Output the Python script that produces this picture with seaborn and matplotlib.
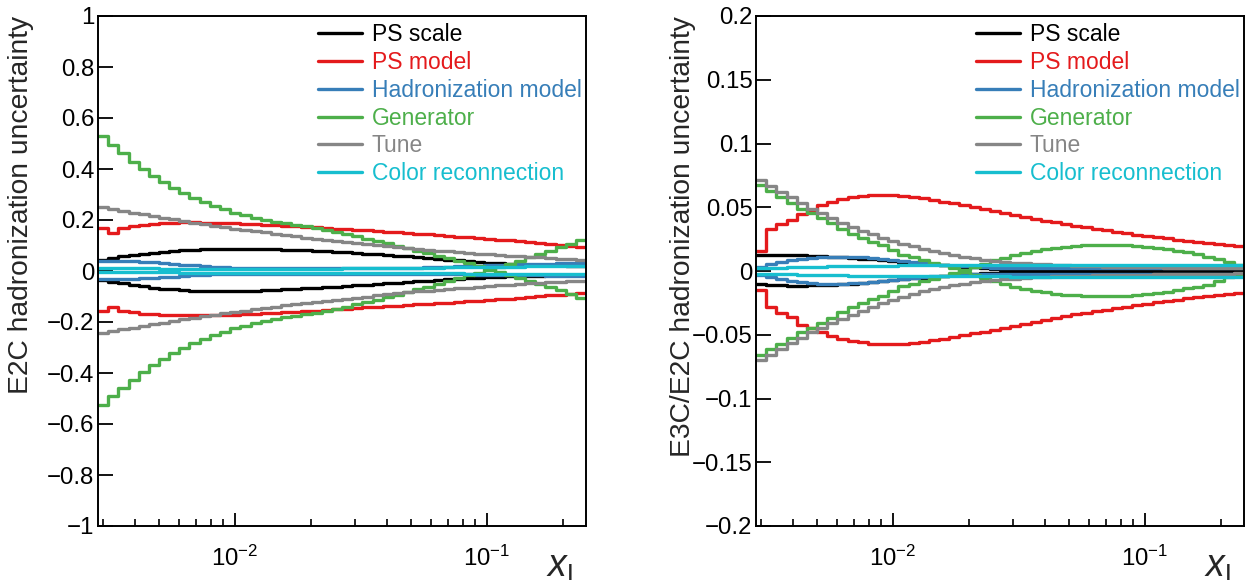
import numpy as np
import pandas as pd
import matplotlib
matplotlib.use("Agg")
import matplotlib.pyplot as plt
from matplotlib.lines import Line2D
from matplotlib.ticker import FixedLocator, FuncFormatter, LogLocator, NullLocator
import seaborn as sns

# ---- binning (log-spaced in x_L) ----
X_MIN, X_MAX, N_BINS = 0.002859, 0.2472, 48

SOURCES = ["PS scale", "PS model", "Hadronization model", "Generator", "Tune", "Color reconnection"]
COLORS = ["#000000", "#E41A1C", "#377EB8", "#4DAF4A", "#868686", "#17BECF"]

# ---- E2C hadronization uncertainties (up / down variation per bin) ----
E2C_PS_SCALE_UP = [0.045, 0.052, 0.058, 0.063, 0.068, 0.072, 0.076, 0.079, 0.082, 0.084,
                   0.086, 0.087, 0.088, 0.088, 0.088, 0.087, 0.086, 0.085, 0.084, 0.082,
                   0.081, 0.079, 0.077, 0.075, 0.073, 0.071, 0.068, 0.066, 0.063, 0.060,
                   0.057, 0.054, 0.051, 0.048, 0.045, 0.042, 0.039, 0.036, 0.033, 0.031,
                   0.029, 0.027, 0.025, 0.024, 0.023, 0.022, 0.021, 0.020]
E2C_PS_SCALE_DN = [-0.035, -0.042, -0.049, -0.055, -0.060, -0.065, -0.069, -0.072, -0.075, -0.077,
                   -0.078, -0.079, -0.079, -0.079, -0.078, -0.077, -0.076, -0.074, -0.072, -0.070,
                   -0.068, -0.066, -0.064, -0.061, -0.059, -0.056, -0.054, -0.051, -0.048, -0.046,
                   -0.043, -0.040, -0.038, -0.035, -0.033, -0.031, -0.029, -0.027, -0.025, -0.023,
                   -0.021, -0.020, -0.019, -0.018, -0.017, -0.016, -0.015, -0.014]
E2C_PS_MODEL_UP = [0.167, 0.148, 0.167, 0.176, 0.182, 0.186, 0.189, 0.190, 0.191, 0.191,
                   0.190, 0.189, 0.188, 0.187, 0.185, 0.183, 0.181, 0.179, 0.177, 0.175,
                   0.173, 0.171, 0.168, 0.166, 0.164, 0.161, 0.159, 0.157, 0.154, 0.152,
                   0.149, 0.147, 0.144, 0.141, 0.138, 0.135, 0.132, 0.129, 0.126, 0.123,
                   0.120, 0.117, 0.113, 0.110, 0.107, 0.103, 0.100, 0.096]
E2C_PS_MODEL_DN = [-0.155, -0.142, -0.155, -0.162, -0.167, -0.170, -0.172, -0.173, -0.174, -0.174,
                   -0.174, -0.173, -0.172, -0.171, -0.169, -0.167, -0.165, -0.163, -0.161, -0.159,
                   -0.157, -0.155, -0.153, -0.150, -0.148, -0.146, -0.143, -0.141, -0.139, -0.136,
                   -0.134, -0.131, -0.129, -0.126, -0.124, -0.121, -0.118, -0.116, -0.113, -0.111,
                   -0.108, -0.105, -0.102, -0.099, -0.096, -0.093, -0.089, -0.086]
E2C_HAD_UP = [0.038, 0.040, 0.040, 0.039, 0.037, 0.034, 0.031, 0.028, 0.025, 0.022,
              0.019, 0.017, 0.015, 0.013, 0.012, 0.011, 0.010, 0.010, 0.010, 0.010,
              0.010, 0.010, 0.010, 0.010, 0.010, 0.010, 0.010, 0.010, 0.010, 0.011,
              0.012, 0.013, 0.014, 0.015, 0.016, 0.018, 0.019, 0.020, 0.022, 0.023,
              0.024, 0.026, 0.027, 0.028, 0.029, 0.030, 0.031, 0.032]
E2C_HAD_DN = [-0.030, -0.031, -0.031, -0.030, -0.028, -0.026, -0.024, -0.022, -0.019, -0.017,
              -0.015, -0.013, -0.012, -0.011, -0.010, -0.010, -0.010, -0.010, -0.010, -0.010,
              -0.010, -0.010, -0.010, -0.010, -0.010, -0.010, -0.010, -0.010, -0.010, -0.010,
              -0.010, -0.011, -0.011, -0.012, -0.012, -0.013, -0.013, -0.014, -0.014, -0.015,
              -0.015, -0.016, -0.016, -0.017, -0.018, -0.018, -0.019, -0.020]
E2C_GEN_UP = [0.530, 0.494, 0.461, 0.429, 0.400, 0.374, 0.348, 0.326, 0.306, 0.288,
              0.271, 0.256, 0.242, 0.229, 0.218, 0.208, 0.199, 0.193, 0.187, 0.181,
              0.175, 0.168, 0.161, 0.153, 0.145, 0.136, 0.127, 0.118, 0.109, 0.100,
              0.090, 0.080, 0.070, 0.060, 0.050, 0.040, 0.030, 0.019, 0.008, -0.003,
              -0.015, -0.026, -0.038, -0.050, -0.062, -0.075, -0.089, -0.106]
E2C_GEN_DN = [-0.525, -0.490, -0.458, -0.426, -0.397, -0.370, -0.345, -0.322, -0.302, -0.284,
              -0.267, -0.252, -0.238, -0.225, -0.214, -0.204, -0.195, -0.188, -0.182, -0.176,
              -0.170, -0.163, -0.156, -0.148, -0.140, -0.131, -0.122, -0.113, -0.103, -0.093,
              -0.083, -0.072, -0.061, -0.050, -0.039, -0.028, -0.017, -0.006, 0.005, 0.017,
              0.029, 0.041, 0.053, 0.066, 0.079, 0.093, 0.107, 0.122]
E2C_TUNE_UP = [0.250, 0.243, 0.236, 0.229, 0.222, 0.216, 0.209, 0.203, 0.197, 0.190,
               0.184, 0.178, 0.172, 0.166, 0.161, 0.156, 0.151, 0.146, 0.141, 0.136,
               0.131, 0.127, 0.122, 0.118, 0.113, 0.109, 0.105, 0.101, 0.097, 0.093,
               0.090, 0.086, 0.083, 0.080, 0.077, 0.074, 0.071, 0.068, 0.065, 0.062,
               0.060, 0.057, 0.055, 0.053, 0.050, 0.048, 0.046, 0.044]
E2C_TUNE_DN = [-0.243, -0.236, -0.229, -0.222, -0.215, -0.209, -0.202, -0.196, -0.190, -0.184,
               -0.178, -0.172, -0.166, -0.160, -0.155, -0.150, -0.145, -0.140, -0.135, -0.130,
               -0.125, -0.121, -0.116, -0.112, -0.108, -0.104, -0.100, -0.096, -0.092, -0.088,
               -0.084, -0.080, -0.077, -0.074, -0.071, -0.068, -0.065, -0.062, -0.059, -0.056,
               -0.054, -0.051, -0.049, -0.046, -0.044, -0.042, -0.040, -0.038]
E2C_CR_UP = [0.012, 0.012, 0.011, 0.011, 0.010, 0.010, 0.009, 0.009, 0.008, 0.008,
             0.008, 0.008, 0.008, 0.008, 0.008, 0.008, 0.008, 0.008, 0.008, 0.008,
             0.008, 0.009, 0.009, 0.009, 0.010, 0.010, 0.010, 0.011, 0.011, 0.012,
             0.012, 0.012, 0.013, 0.013, 0.014, 0.014, 0.015, 0.015, 0.016, 0.016,
             0.017, 0.017, 0.018, 0.018, 0.019, 0.019, 0.020, 0.020]
E2C_CR_DN = [-0.002, -0.003, -0.003, -0.004, -0.004, -0.005, -0.005, -0.005, -0.006, -0.006,
             -0.006, -0.006, -0.006, -0.006, -0.006, -0.006, -0.006, -0.006, -0.006, -0.006,
             -0.006, -0.006, -0.006, -0.006, -0.007, -0.007, -0.007, -0.007, -0.008, -0.008,
             -0.008, -0.008, -0.009, -0.009, -0.009, -0.009, -0.010, -0.010, -0.010, -0.010,
             -0.011, -0.011, -0.011, -0.011, -0.012, -0.012, -0.012, -0.012]

# ---- E3C/E2C hadronization uncertainties ----
R_PS_SCALE_UP = [0.0123, 0.0124, 0.0124, 0.0123, 0.0122, 0.0120, 0.0117, 0.0113, 0.0109, 0.0104,
                 0.0098, 0.0092, 0.0086, 0.0079, 0.0072, 0.0065, 0.0058, 0.0051, 0.0045, 0.0039,
                 0.0033, 0.0028, 0.0023, 0.0019, 0.0015, 0.0012, 0.0010, 0.0008, 0.0007, 0.0006,
                 0.0006, 0.0006, 0.0006, 0.0006, 0.0006, 0.0007, 0.0007, 0.0007, 0.0007, 0.0008,
                 0.0008, 0.0008, 0.0008, 0.0009, 0.0009, 0.0009, 0.0010, 0.0010]
R_PS_SCALE_DN = [-0.0105, -0.0110, -0.0113, -0.0114, -0.0114, -0.0113, -0.0111, -0.0108, -0.0104, -0.0099,
                 -0.0093, -0.0087, -0.0080, -0.0073, -0.0066, -0.0058, -0.0051, -0.0044, -0.0037, -0.0031,
                 -0.0025, -0.0020, -0.0016, -0.0012, -0.0009, -0.0007, -0.0005, -0.0004, -0.0003, -0.0003,
                 -0.0003, -0.0003, -0.0003, -0.0003, -0.0003, -0.0003, -0.0003, -0.0003, -0.0003, -0.0003,
                 -0.0004, -0.0004, -0.0004, -0.0004, -0.0004, -0.0004, -0.0004, -0.0004]
R_PS_MODEL_UP = [0.0160, 0.0330, 0.0372, 0.0400, 0.0450, 0.0480, 0.0518, 0.0544, 0.0562, 0.0580,
                 0.0590, 0.0597, 0.0600, 0.0597, 0.0590, 0.0580, 0.0570, 0.0557, 0.0545, 0.0530,
                 0.0515, 0.0500, 0.0485, 0.0470, 0.0455, 0.0440, 0.0425, 0.0410, 0.0396, 0.0382,
                 0.0368, 0.0355, 0.0342, 0.0330, 0.0318, 0.0307, 0.0296, 0.0286, 0.0276, 0.0266,
                 0.0256, 0.0246, 0.0237, 0.0228, 0.0219, 0.0211, 0.0203, 0.0196]
R_PS_MODEL_DN = [-0.0150, -0.0280, -0.0330, -0.0360, -0.0420, -0.0450, -0.0480, -0.0510, -0.0530, -0.0550,
                 -0.0560, -0.0570, -0.0575, -0.0575, -0.0570, -0.0565, -0.0555, -0.0545, -0.0535, -0.0520,
                 -0.0505, -0.0490, -0.0475, -0.0460, -0.0445, -0.0430, -0.0415, -0.0400, -0.0385, -0.0370,
                 -0.0355, -0.0340, -0.0328, -0.0316, -0.0304, -0.0292, -0.0280, -0.0268, -0.0257, -0.0246,
                 -0.0235, -0.0225, -0.0215, -0.0206, -0.0197, -0.0188, -0.0180, -0.0175]
R_HAD_UP = [0.0035, 0.0055, 0.0072, 0.0086, 0.0097, 0.0105, 0.0110, 0.0112, 0.0112, 0.0110,
            0.0106, 0.0100, 0.0093, 0.0085, 0.0077, 0.0069, 0.0061, 0.0054, 0.0047, 0.0041,
            0.0036, 0.0032, 0.0029, 0.0027, 0.0025, 0.0024, 0.0024, 0.0024, 0.0024, 0.0024,
            0.0023, 0.0023, 0.0023, 0.0023, 0.0023, 0.0022, 0.0022, 0.0022, 0.0022, 0.0022,
            0.0021, 0.0021, 0.0021, 0.0021, 0.0021, 0.0020, 0.0020, 0.0020]
R_HAD_DN = [-0.0030, -0.0050, -0.0066, -0.0079, -0.0089, -0.0096, -0.0100, -0.0102, -0.0101, -0.0098,
            -0.0093, -0.0087, -0.0080, -0.0072, -0.0064, -0.0056, -0.0049, -0.0042, -0.0036, -0.0031,
            -0.0027, -0.0024, -0.0022, -0.0021, -0.0020, -0.0020, -0.0020, -0.0020, -0.0021, -0.0021,
            -0.0021, -0.0021, -0.0022, -0.0022, -0.0022, -0.0022, -0.0023, -0.0023, -0.0023, -0.0023,
            -0.0024, -0.0024, -0.0024, -0.0024, -0.0025, -0.0025, -0.0025, -0.0025]
R_GEN_UP = [0.0675, 0.0630, 0.0583, 0.0531, 0.0484, 0.0452, 0.0413, 0.0374, 0.0327, 0.0290,
            0.0256, 0.0230, 0.0204, 0.0165, 0.0125, 0.0107, 0.0086, 0.0065, 0.0045, 0.0022,
            -0.0005, -0.0030, -0.0055, -0.0080, -0.0102, -0.0122, -0.0140, -0.0155, -0.0167, -0.0177,
            -0.0185, -0.0191, -0.0195, -0.0198, -0.0199, -0.0198, -0.0194, -0.0188, -0.0180, -0.0172,
            -0.0162, -0.0150, -0.0137, -0.0122, -0.0106, -0.0075, -0.0050, -0.0025]
R_GEN_DN = [-0.0660, -0.0615, -0.0570, -0.0522, -0.0476, -0.0444, -0.0405, -0.0366, -0.0320, -0.0283,
            -0.0250, -0.0222, -0.0196, -0.0158, -0.0120, -0.0101, -0.0080, -0.0060, -0.0040, -0.0018,
            0.0008, 0.0033, 0.0058, 0.0083, 0.0105, 0.0125, 0.0143, 0.0158, 0.0170, 0.0180,
            0.0189, 0.0196, 0.0201, 0.0204, 0.0206, 0.0205, 0.0202, 0.0197, 0.0190, 0.0182,
            0.0172, 0.0160, 0.0146, 0.0130, 0.0113, 0.0093, 0.0070, 0.0045]
R_TUNE_UP = [0.0714, 0.0668, 0.0622, 0.0578, 0.0532, 0.0490, 0.0452, 0.0415, 0.0380, 0.0347,
             0.0316, 0.0288, 0.0262, 0.0238, 0.0215, 0.0194, 0.0175, 0.0157, 0.0141, 0.0126,
             0.0113, 0.0101, 0.0090, 0.0081, 0.0073, 0.0066, 0.0060, 0.0055, 0.0051, 0.0047,
             0.0044, 0.0041, 0.0039, 0.0037, 0.0035, 0.0033, 0.0031, 0.0030, 0.0029, 0.0028,
             0.0027, 0.0026, 0.0025, 0.0024, 0.0023, 0.0022, 0.0021, 0.0020]
R_TUNE_DN = [-0.0698, -0.0655, -0.0610, -0.0567, -0.0522, -0.0481, -0.0444, -0.0408, -0.0374, -0.0342,
             -0.0310, -0.0280, -0.0252, -0.0226, -0.0202, -0.0180, -0.0160, -0.0142, -0.0126, -0.0112,
             -0.0100, -0.0089, -0.0080, -0.0072, -0.0065, -0.0059, -0.0054, -0.0050, -0.0046, -0.0043,
             -0.0040, -0.0038, -0.0036, -0.0034, -0.0032, -0.0031, -0.0030, -0.0029, -0.0028, -0.0027,
             -0.0026, -0.0025, -0.0024, -0.0023, -0.0022, -0.0021, -0.0020, -0.0019]
R_CR_UP = [0.0020, 0.0023, 0.0026, 0.0029, 0.0031, 0.0033, 0.0035, 0.0037, 0.0038, 0.0039,
           0.0040, 0.0041, 0.0042, 0.0043, 0.0044, 0.0045, 0.0045, 0.0045, 0.0045, 0.0045,
           0.0046, 0.0046, 0.0046, 0.0046, 0.0046, 0.0046, 0.0046, 0.0046, 0.0046, 0.0046,
           0.0047, 0.0047, 0.0047, 0.0047, 0.0047, 0.0047, 0.0047, 0.0047, 0.0047, 0.0047,
           0.0048, 0.0048, 0.0048, 0.0048, 0.0048, 0.0048, 0.0048, 0.0048]
R_CR_DN = [-0.0020, -0.0023, -0.0025, -0.0027, -0.0029, -0.0031, -0.0033, -0.0034, -0.0035, -0.0036,
           -0.0037, -0.0038, -0.0039, -0.0040, -0.0041, -0.0042, -0.0042, -0.0042, -0.0042, -0.0042,
           -0.0043, -0.0043, -0.0043, -0.0043, -0.0043, -0.0044, -0.0044, -0.0044, -0.0044, -0.0044,
           -0.0045, -0.0045, -0.0045, -0.0045, -0.0045, -0.0046, -0.0046, -0.0046, -0.0046, -0.0046,
           -0.0047, -0.0047, -0.0047, -0.0047, -0.0047, -0.0048, -0.0048, -0.0048]

E2C_UP = [E2C_PS_SCALE_UP, E2C_PS_MODEL_UP, E2C_HAD_UP, E2C_GEN_UP, E2C_TUNE_UP, E2C_CR_UP]
E2C_DN = [E2C_PS_SCALE_DN, E2C_PS_MODEL_DN, E2C_HAD_DN, E2C_GEN_DN, E2C_TUNE_DN, E2C_CR_DN]
RATIO_UP = [R_PS_SCALE_UP, R_PS_MODEL_UP, R_HAD_UP, R_GEN_UP, R_TUNE_UP, R_CR_UP]
RATIO_DN = [R_PS_SCALE_DN, R_PS_MODEL_DN, R_HAD_DN, R_GEN_DN, R_TUNE_DN, R_CR_DN]

EDGES = np.logspace(np.log10(X_MIN), np.log10(X_MAX), N_BINS + 1)

# ---- style ----
sns.set_theme(style="ticks")
plt.rcParams["font.family"] = ["Liberation Sans", "DejaVu Sans"]
plt.rcParams["mathtext.fontset"] = "custom"
plt.rcParams["mathtext.rm"] = "Liberation Sans"
plt.rcParams["mathtext.it"] = "Liberation Sans:italic"
plt.rcParams["axes.edgecolor"] = "black"
plt.rcParams["axes.linewidth"] = 1.4
plt.rcParams["xtick.color"] = "black"
plt.rcParams["ytick.color"] = "black"
plt.rcParams["axes.unicode_minus"] = True

LW = 2.4
PALETTE = dict(zip(SOURCES, COLORS))


def long_table(ups, dns):
    frames = []
    for src, up, dn in zip(SOURCES, ups, dns):
        for var, vals in (("up", up), ("down", dn)):
            vals = np.asarray(vals, dtype=float)
            assert len(vals) == N_BINS
            frames.append(pd.DataFrame({
                "x": EDGES,
                "y": np.append(vals, vals[-1]),
                "source": src,
                "variation": var,
            }))
    return pd.concat(frames, ignore_index=True)


def fmt_y(v, _pos):
    v = round(v, 6)
    if v == 0:
        return "0"
    return f"{v:g}".replace("-", "\u2212")


def draw_panel(ax, ups, dns, ylim, yticks, ylabel, label_x):
    df = long_table(ups, dns)
    sns.lineplot(data=df, x="x", y="y", hue="source", hue_order=SOURCES,
                 palette=PALETTE, units="variation", estimator=None, sort=False,
                 drawstyle="steps-post", linewidth=LW, legend=False, ax=ax)
    ax.set_xscale("log")
    ax.set_xlim(X_MIN, X_MAX)
    ax.set_ylim(*ylim)
    ax.yaxis.set_major_locator(FixedLocator(yticks))
    ax.yaxis.set_major_formatter(FuncFormatter(fmt_y))
    ax.yaxis.set_minor_locator(NullLocator())
    ax.xaxis.set_major_locator(LogLocator(base=10))
    ax.xaxis.set_minor_locator(LogLocator(base=10, subs=np.arange(2, 10), numticks=20))
    ax.tick_params(which="both", direction="in", top=False, right=False)
    ax.tick_params(axis="y", which="major", length=10.8, width=1.3, pad=2.5, labelsize=17.3)
    ax.tick_params(axis="x", which="major", length=9.4, width=1.3, pad=14, labelsize=17.3)
    ax.tick_params(axis="x", which="minor", length=5.0, width=1.2)
    for sp in ax.spines.values():
        sp.set_visible(True)
        sp.set_color("black")
        sp.set_linewidth(1.4)
    ax.grid(False)

    ax.set_ylabel(ylabel, fontsize=20.3, loc="top")
    ax.yaxis.set_label_coords(label_x, 1.0)
    ax.set_xlabel(r"$x_\mathrm{L}$", fontsize=27, loc="right")
    ax.xaxis.set_label_coords(0.992, -0.045)

    handles = [Line2D([], [], color=c, lw=LW) for c in COLORS]
    ax.legend(handles, SOURCES, loc="upper left", bbox_to_anchor=(0.451, 0.986),
              frameon=False, fontsize=16.5, labelcolor=COLORS, handlelength=1.9,
              handletextpad=0.45, labelspacing=0.21, borderpad=0, borderaxespad=0)


fig = plt.figure(figsize=(12.51, 5.80), dpi=100)
ax1 = fig.add_axes([98 / 1251, 1 - 526 / 580, 488 / 1251, 510 / 580])
ax2 = fig.add_axes([756 / 1251, 1 - 526 / 580, 488 / 1251, 510 / 580])

draw_panel(ax1, E2C_UP, E2C_DN, (-1, 1), np.round(np.arange(-1, 1.0001, 0.2), 2),
           "E2C hadronization uncertainty", -0.131)
draw_panel(ax2, RATIO_UP, RATIO_DN, (-0.2, 0.2), np.round(np.arange(-0.2, 0.2001, 0.05), 3),
           "E3C/E2C hadronization uncertainty", -0.123)

fig.savefig("out.png", dpi=100, facecolor="white")
